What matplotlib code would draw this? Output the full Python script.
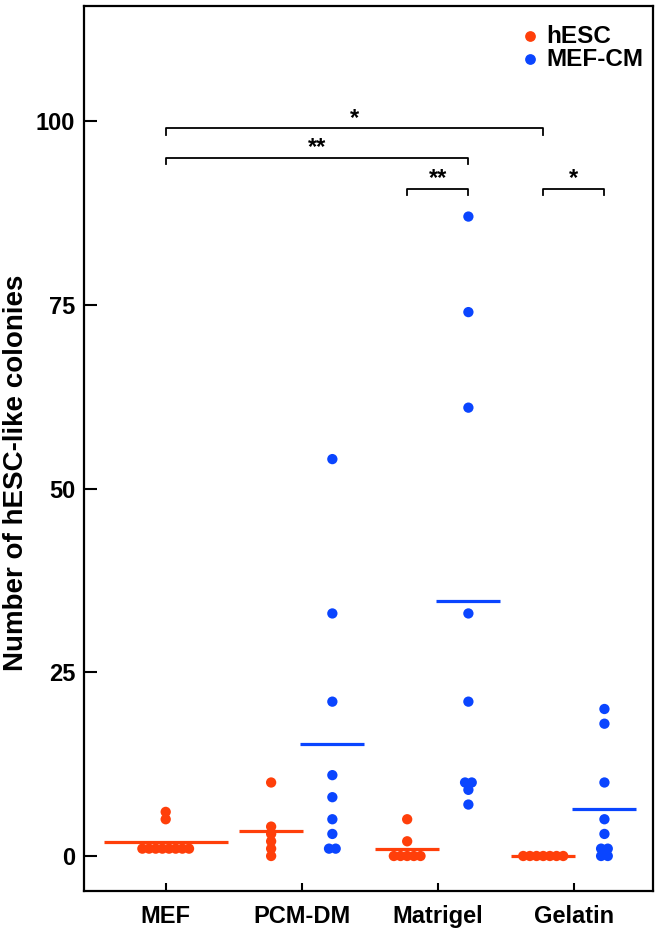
import numpy as np
import matplotlib
matplotlib.use("Agg")
import matplotlib.pyplot as plt

plt.rcParams['font.family'] = ['Liberation Sans', 'DejaVu Sans']
plt.rcParams['font.weight'] = 'bold'

categories = ["MEF", "PCM-DM", "Matrigel", "Gelatin"]

# colony counts per condition
hesc = [
    [6, 5, 1, 1, 1, 1, 1, 1, 1, 1],      # MEF
    [10, 4, 3, 2, 1, 0],                 # PCM-DM
    [5, 2, 0, 0, 0, 0, 0],               # Matrigel
    [0, 0, 0, 0, 0, 0, 0],               # Gelatin
]
mefcm = [
    [],                                          # MEF
    [54, 33, 21, 11, 8, 5, 3, 1, 1],             # PCM-DM
    [87, 74, 61, 33, 21, 10, 10, 9, 7],          # Matrigel
    [20, 18, 10, 5, 3, 1, 1, 0, 0],              # Gelatin
]

# significance brackets: (group_a, group_b, star label, level)
brackets = [
    (("MEF", "hESC"), ("Gelatin", "hESC"), "*", 99.0),
    (("MEF", "hESC"), ("Matrigel", "MEF-CM"), "**", 95.0),
    (("Matrigel", "hESC"), ("Matrigel", "MEF-CM"), "**", 90.8),
    (("Gelatin", "hESC"), ("Gelatin", "MEF-CM"), "*", 90.8),
]

C_HESC = "#FF3F0A"
C_MEF = "#0A45FF"
STEP = 0.049
OFFS = 0.225


def xpos(cat, series):
    i = categories.index(cat) + 1
    if cat == "MEF":
        return i
    return i - OFFS if series == "hESC" else i + OFFS


def swarm(vals, x0):
    vals = np.asarray(vals, dtype=float)
    xs = np.zeros_like(vals)
    for v in np.unique(vals):
        idx = np.where(vals == v)[0]
        n = len(idx)
        xs[idx] = x0 + (np.arange(n) - (n - 1) / 2) * STEP
    return xs, vals


fig = plt.figure(figsize=(6.62, 9.36), dpi=100)
ax = fig.add_axes([0.127, 0.0481, 0.859, 0.9455])

for cat, hv, mv in zip(categories, hesc, mefcm):
    for vals, name, col in ((hv, "hESC", C_HESC), (mv, "MEF-CM", C_MEF)):
        if not vals:
            continue
        x0 = xpos(cat, name)
        xs, ys = swarm(vals, x0)
        ax.scatter(xs, ys, s=55, color=col, edgecolors='none', zorder=3)
        half = 0.455 if cat == "MEF" else 0.235
        ax.plot([x0 - half, x0 + half], [np.mean(vals)] * 2, color=col,
                lw=2.3, solid_capstyle='butt', zorder=2)

for a, b, lab, y in brackets:
    x1 = xpos(*a)
    x2 = xpos(*b)
    ax.plot([x1, x1, x2, x2], [y - 0.9, y, y, y - 0.9], color='black',
            lw=1.3, zorder=2)
    ax.text((x1 + x2) / 2, y - 0.2, lab, ha='center', va='bottom',
            fontsize=17, fontweight='bold')

ax.scatter([], [], s=45, color=C_HESC, label="hESC")
ax.scatter([], [], s=45, color=C_MEF, label="MEF-CM")
ax.legend(loc='upper right', bbox_to_anchor=(1.0, 0.99), frameon=False,
          handletextpad=0.05, labelspacing=0.0, handlelength=1.2,
          borderaxespad=0.0, prop={'weight': 'bold', 'size': 17.5})

ax.set_xlim(0.4, 4.58)
ax.set_ylim(-4.76, 115.65)
ax.set_xticks(range(1, 5))
ax.set_xticklabels(categories)
ax.set_yticks([0, 25, 50, 75, 100])
ax.tick_params(axis='y', direction='in', length=9, width=1.5,
               labelsize=17, pad=6.5)
ax.tick_params(axis='x', direction='in', length=6, width=1.5,
               labelsize=17, pad=10)
for lab in ax.get_xticklabels() + ax.get_yticklabels():
    lab.set_fontweight('bold')
for sp in ax.spines.values():
    sp.set_linewidth(1.6)

ax.set_ylabel("Number of hESC-like colonies", fontsize=20,
              fontweight='bold')
ax.yaxis.set_label_coords(-0.097, 0.473)

fig.savefig("out.png", dpi=100)
